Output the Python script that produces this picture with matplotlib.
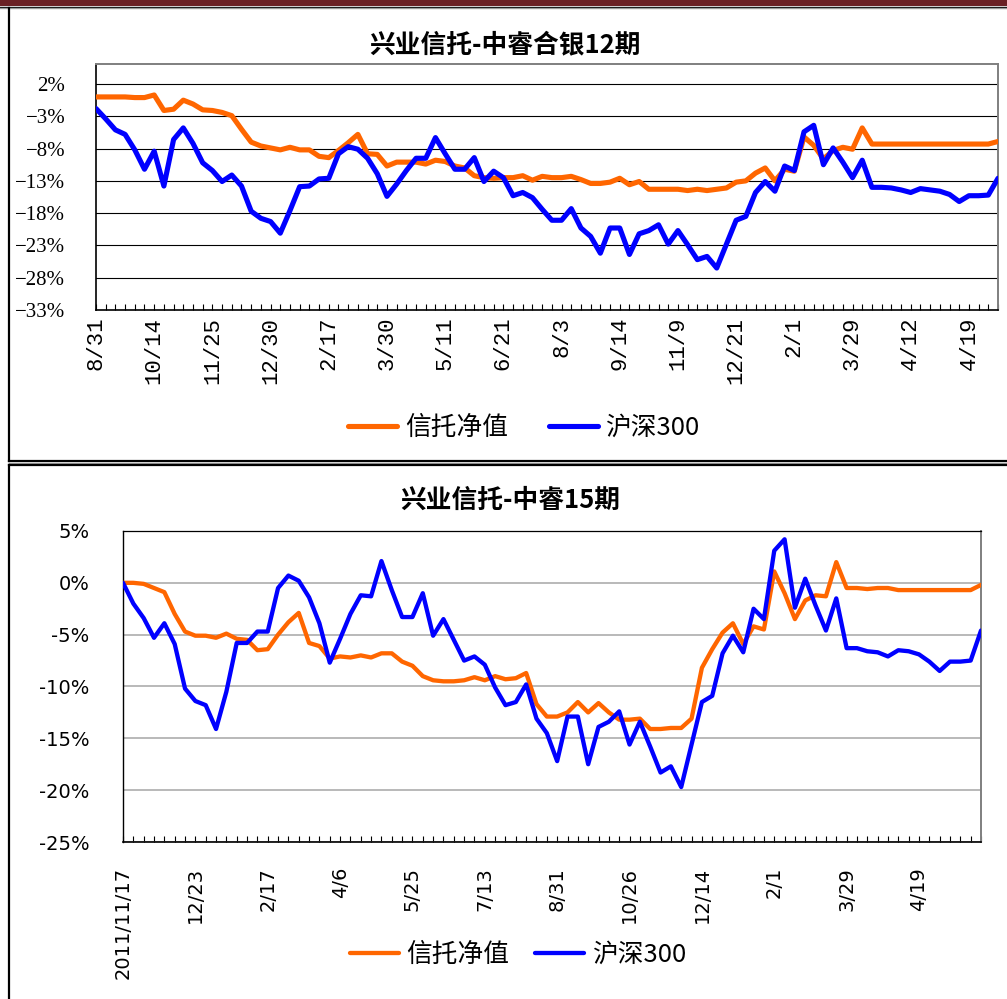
import numpy as np
import matplotlib
matplotlib.use("Agg")
import matplotlib.pyplot as plt
from matplotlib.patches import Rectangle

W, H = 1007, 999

# --- chart 1: 兴业信托-中睿合银12期 (values in %) ---
top_trust = [
    0, 0, 0, 0, -0.1, -0.1, 0.3, -2.1, -1.9, -0.5, -1.1, -2.0, -2.1, -2.4,
    -2.9, -5.0, -7.0, -7.6, -7.9, -8.2, -7.8, -8.2, -8.2, -9.2, -9.4, -8.3,
    -7.1, -5.8, -8.8, -8.9, -10.7, -10.1, -10.1, -10.1, -10.4, -9.8, -10.0,
    -10.7, -11.0, -12.2, -12.5, -12.6,
    -12.5, -12.5, -12.2, -12.9, -12.3, -12.5, -12.5, -12.3, -12.8, -13.4,
    -13.4, -13.2, -12.6, -13.6, -13.1, -14.3, -14.3, -14.3, -14.3, -14.5,
    -14.3, -14.5, -14.3, -14.1, -13.2, -13.0, -11.8, -11.0, -13.0, -11.2,
    -11.5, -6.2, -7.5, -9.6, -8.3, -7.8, -8.1, -4.8, -7.3,
    -7.3, -7.3, -7.3, -7.3, -7.3, -7.3, -7.3, -7.3, -7.3, -7.3, -7.3, -7.3,
    -6.9,
]
top_hs300 = [
    -1.8, -3.4, -5.1, -5.8, -8.2, -11.2, -8.4, -13.8, -6.6, -4.8, -7.2, -10.2,
    -11.4, -13.1, -12.1, -13.8, -17.7, -18.8, -19.3, -21.1, -17.6, -13.9,
    -13.8, -12.7, -12.6, -8.8, -7.7, -8.1, -9.5, -11.9, -15.4, -13.5, -11.4,
    -9.5, -9.5, -6.3, -8.8, -11.2, -11.2, -9.4, -13.1, -11.5,
    -12.5, -15.3, -14.8, -15.6, -17.4, -19.1, -19.1, -17.3, -20.3, -21.6,
    -24.2, -20.3, -20.3, -24.4, -21.2, -20.7, -19.8, -22.8, -20.7, -22.9,
    -25.2, -24.7, -26.5, -22.8, -19.1, -18.5, -14.8, -13.1, -14.6, -10.7,
    -11.4, -5.4, -4.4, -10.5, -7.9, -10.1, -12.5, -9.8, -14.0, -14.0, -14.1,
    -14.4, -14.8, -14.2, -14.4, -14.6, -15.1, -16.2, -15.3, -15.3, -15.2,
    -12.6,
]
top_labels = ["8/31", "10/14", "11/25", "12/30", "2/17", "3/30", "5/11",
              "6/21", "8/3", "9/14", "11/9", "12/21", "2/1", "3/29", "4/12",
              "4/19"]

# --- chart 2: 兴业信托-中睿15期 (values in %) ---
bot_trust = [
    0, 0, -0.1, -0.5, -0.9, -3.0, -4.7, -5.1, -5.1, -5.3, -4.9, -5.4, -5.5,
    -6.5, -6.4, -5.0, -3.8, -2.9, -5.8, -6.1, -7.3, -7.1, -7.2, -7.0, -7.2,
    -6.8, -6.8, -7.6, -8.0, -9.0, -9.4, -9.5, -9.5, -9.4, -9.1, -9.4, -9.0,
    -9.3, -9.2, -8.7, -11.7, -12.9, -12.9, -12.5, -11.5, -12.5, -11.6, -12.5,
    -13.2, -13.2, -13.1, -14.1, -14.1, -14.0, -14.0, -13.1, -8.2, -6.4, -4.8,
    -3.9, -5.9, -4.2, -4.5, 1.1, -1.0, -3.5, -1.7, -1.2, -1.3, 2.0, -0.5,
    -0.5, -0.6, -0.5, -0.5,
    -0.7, -0.7, -0.7, -0.7, -0.7, -0.7, -0.7, -0.7, -0.2,
]
bot_hs300 = [
    0, -2.0, -3.4, -5.3, -3.9, -5.9, -10.2, -11.4, -11.8, -14.1, -10.5, -5.8,
    -5.8, -4.7, -4.7, -0.5, 0.7, 0.2, -1.4, -3.9, -7.7, -5.4, -3.0, -1.2,
    -1.3, 2.1, -0.7, -3.3, -3.3, -1.0, -5.1, -3.5, -5.5, -7.5, -7.1, -7.9,
    -10.1,
    -11.8, -11.5, -9.8, -13.1, -14.5, -17.2, -12.9, -12.9, -17.5, -13.9,
    -13.4, -12.4, -15.6, -13.4, -15.8, -18.3, -17.7, -19.7, -15.6, -11.5,
    -10.9, -6.8, -5.1, -6.7, -2.5, -3.5, 3.1, 4.2, -2.4, 0.4, -2.2, -4.6,
    -1.5, -6.3, -6.3, -6.6, -6.7, -7.1, -6.5, -6.6, -6.9, -7.6, -8.5, -7.6,
    -7.6, -7.5, -4.6,
]
bot_labels = ["2011/11/17", "12/23", "2/17", "4/6", "5/25", "7/13", "8/31",
              "10/26", "12/14", "2/1", "3/29", "4/19"]

series_names = ["信托净值", "沪深300"]
ORANGE, BLUE = "#FF6600", "#0000FF"
CJK = ["Noto Sans CJK SC", "DejaVu Sans"]

fig = plt.figure(figsize=(W / 100, H / 100), dpi=100)

# page decoration: dark red band and panel frames, drawn in pixel space
bg = fig.add_axes([0, 0, 1, 1])
bg.set_xlim(0, W)
bg.set_ylim(H, 0)
bg.axis("off")
bg.add_patch(Rectangle((0, 0), W, 5.5, color="#6A2024", lw=0))
bg.plot([0, W], [6.5, 6.5], color="black", lw=1)
bg.plot([0, W], [8, 8], color="#9A9A9A", lw=1)
bg.plot([9, 9], [8, 461], color="black", lw=1.6)
bg.plot([9, W], [460.5, 460.5], color="black", lw=1.6)
bg.plot([9, W], [462.7, 462.7], color="#9A9A9A", lw=1)
bg.plot([9, W], [465, 465], color="black", lw=1.6)
bg.plot([9, 9], [465, H], color="black", lw=1.6)


def px_axes(left, top, right, bottom):
    return fig.add_axes([left / W, 1 - bottom / H, (right - left) / W,
                         (bottom - top) / H])


def draw_chart(ax, trust, hs300, labels, step, lw):
    x = np.arange(len(trust))
    l1, = ax.plot(x, trust, color=ORANGE, lw=lw, solid_joinstyle="round",
                  solid_capstyle="round", zorder=3)
    l2, = ax.plot(x, hs300, color=BLUE, lw=lw, solid_joinstyle="round",
                  solid_capstyle="round", zorder=4)
    ax.set_xlim(0, len(trust) - 1)
    ticklabels = [""] * len(trust)
    for k, lab in enumerate(labels):
        ticklabels[k * step] = lab
    ax.set_xticks(x)
    ax.set_xticklabels(ticklabels, rotation=90, va="top", ha="center")
    ax.set_axisbelow(True)
    return l1, l2


# ---------------- top chart ----------------
ax1 = px_axes(96, 64, 998, 310)
h1 = draw_chart(ax1, top_trust, top_hs300, top_labels, 6, 3.7)
ax1.set_ylim(-33, 5.1)
yt = np.arange(-33, 3, 5)
ax1.set_yticks(yt)
ax1.set_yticklabels([f"{v}%".replace("-", "\u2212") for v in yt],
                    family="Liberation Serif", fontsize=15)
ax1.yaxis.grid(True, color="black", lw=0.8)
ax1.tick_params(axis="y", length=0, pad=22)
ax1.tick_params(axis="x", direction="in", length=4.5, width=0.8, pad=5)
for t in ax1.get_xticklabels():
    t.set_family("Liberation Mono")
    t.set_fontsize(16)
ax1.spines["left"].set_linewidth(1.2)
ax1.spines["bottom"].set_linewidth(1.2)
for s in ("top", "right"):
    ax1.spines[s].set_color("#7F7F7F")
    ax1.spines[s].set_linewidth(1.4)
fig.text(505 / W, 1 - 45 / H, "兴业信托-中睿合银12期", ha="center",
         va="center", family=CJK, fontsize=18.5, fontweight="bold")
fig.legend(h1, series_names, loc="center",
           bbox_to_anchor=(524 / W, 1 - 428 / H), ncol=2, frameon=False,
           prop={"family": CJK, "size": 18.5}, handlelength=1.9,
           handletextpad=0.3, columnspacing=1.6)

# ---------------- bottom chart ----------------
ax2 = px_axes(123, 531, 981, 842)
h2 = draw_chart(ax2, bot_trust, bot_hs300, bot_labels, 7, 3.1)
ax2.set_ylim(-25, 5)
yt2 = np.arange(-25, 6, 5)
ax2.set_yticks(yt2)
ax2.set_yticklabels([f"{v}%" for v in yt2], family="DejaVu Sans",
                    fontsize=14)
ax2.yaxis.grid(True, color="#A6A6A6", lw=1.1)
ax2.tick_params(axis="y", length=0, pad=24)
ax2.tick_params(axis="x", direction="in", length=4.5, width=0.8, pad=18)
for t in ax2.get_xticklabels():
    t.set_family("DejaVu Sans")
    t.set_fontsize(14)
ax2.spines["left"].set_linewidth(1.0)
ax2.spines["bottom"].set_linewidth(1.2)
ax2.spines["top"].set_linewidth(0.9)
ax2.spines["right"].set_color("#7F7F7F")
ax2.spines["right"].set_linewidth(1.4)
fig.text(510 / W, 1 - 500 / H, "兴业信托-中睿15期", ha="center",
         va="center", family=CJK, fontsize=18.5, fontweight="bold")
fig.legend(h2, series_names, loc="center",
           bbox_to_anchor=(518 / W, 1 - 955 / H), ncol=2, frameon=False,
           prop={"family": CJK, "size": 18.5}, handlelength=1.9,
           handletextpad=0.3, columnspacing=1.0)

fig.savefig("out.png", dpi=100)
